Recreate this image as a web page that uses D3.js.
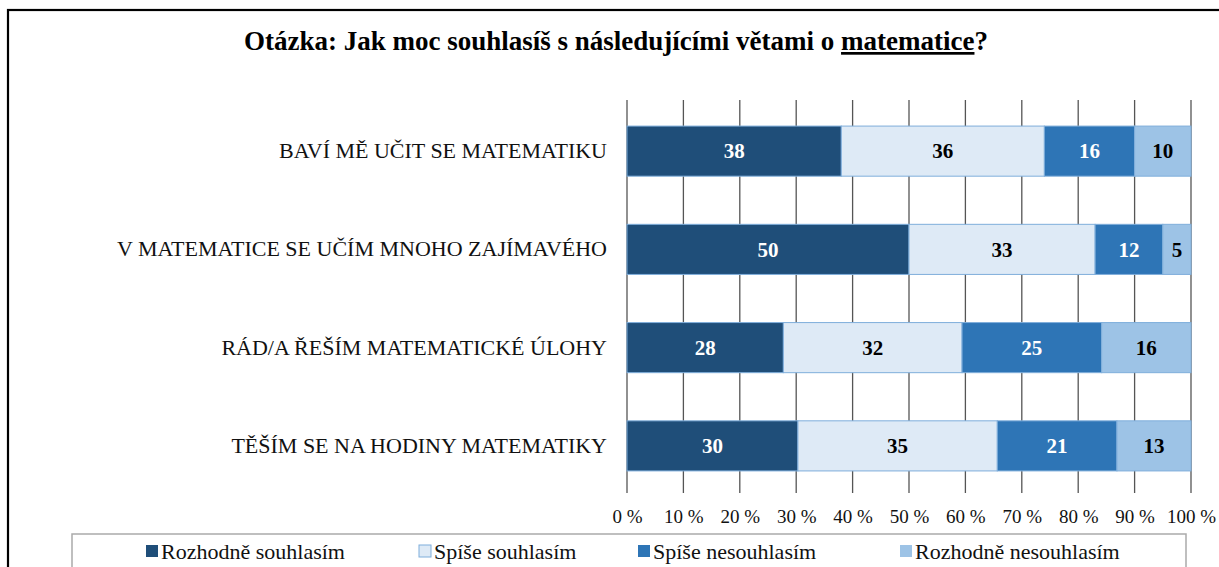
<!DOCTYPE html>
<html>
<head>
<meta charset="utf-8">
<script src="https://cdn.jsdelivr.net/npm/d3@7"></script>
<style>
  body { margin: 0; background: #fff; }
  svg text { font-family: 'Liberation Serif', serif; }
</style>
</head>
<body>
<div id="graph"></div>
<script>
// statements (rows) and answer categories
var statements = [
    "BAVÍ MĚ UČIT SE MATEMATIKU",
    "V MATEMATICE SE UČÍM MNOHO ZAJÍMAVÉHO",
    "RÁD/A ŘEŠÍM MATEMATICKÉ ÚLOHY",
    "TĚŠÍM SE NA HODINY MATEMATIKY"
];
var answers = ["Rozhodně souhlasím", "Spíše souhlasím", "Spíše nesouhlasím", "Rozhodně nesouhlasím"];

// percent values per answer, one entry per statement
var rozhodneSouhlasim = [38, 50, 28, 30];
var spiseSouhlasim = [36, 33, 32, 35];
var spiseNesouhlasim = [16, 12, 25, 21];
var rozhodneNesouhlasim = [10, 5, 16, 13];

var tickValues = [0, 10, 20, 30, 40, 50, 60, 70, 80, 90, 100];

window.onload = start;

function start() {
    var width = 1219;
    var height = 567;

    var svg = d3.select('#graph')
        .append('svg')
        .attr('width', width)
        .attr('height', height);

    // outer frame (runs off the right and bottom edge)
    svg.append('rect')
        .attr('x', 8).attr('y', 10)
        .attr('width', 1240).attr('height', 600)
        .attr('fill', 'none')
        .attr('stroke', '#000')
        .attr('stroke-width', 2.2);

    // title
    var title = svg.append('text')
        .attr('x', 616).attr('y', 50)
        .attr('text-anchor', 'middle')
        .attr('font-size', 27)
        .attr('font-weight', 'bold')
        .attr('fill', '#000');
    title.append('tspan').text('Otázka: Jak moc souhlasíš s následujícími větami o ');
    title.append('tspan').attr('text-decoration', 'underline').text('matematice');
    title.append('tspan').text('?');

    var left = 627, right = 1191, gridTop = 100, gridBottom = 493;

    var xScale = d3.scaleLinear().domain([0, 100]).range([left, right]);
    var yScale = d3.scaleBand().domain(statements).range([102, 495]).paddingInner(0.49).paddingOuter(0.245);

    var series = [rozhodneSouhlasim, spiseSouhlasim, spiseNesouhlasim, rozhodneNesouhlasim];
    var colors = ['#1f4e79', '#deeaf6', '#2e75b6', '#9dc3e6'];
    var labelColors = ['#fff', '#000', '#fff', '#000'];

    // build stacked rows, normalised so each row fills 100 %
    var rows = statements.map(function(s, i) {
        var total = 0;
        series.forEach(function(arr) { total += arr[i]; });
        var acc = 0;
        return series.map(function(arr, k) {
            var v = arr[i] / total * 100;
            var seg = { statement: s, key: k, value: arr[i], x0: acc, x1: acc + v };
            acc += v;
            return seg;
        });
    });

    // gridlines
    svg.append('g')
        .selectAll('line')
        .data(tickValues)
        .enter()
        .append('line')
        .attr('x1', function(d) { return xScale(d); })
        .attr('x2', function(d) { return xScale(d); })
        .attr('y1', gridTop)
        .attr('y2', gridBottom)
        .attr('stroke', '#555')
        .attr('stroke-width', 1.3);

    // bars
    var segs = [].concat.apply([], rows);
    svg.append('g')
        .selectAll('rect')
        .data(segs)
        .enter()
        .append('rect')
        .attr('x', function(d) { return xScale(d.x0); })
        .attr('y', function(d) { return yScale(d.statement); })
        .attr('width', function(d) { return xScale(d.x1) - xScale(d.x0); })
        .attr('height', yScale.bandwidth())
        .attr('fill', function(d) { return colors[d.key]; })
        .attr('stroke', '#7faedb')
        .attr('stroke-width', 1);

    // value labels
    svg.append('g')
        .selectAll('text')
        .data(segs)
        .enter()
        .append('text')
        .attr('x', function(d) { return (xScale(d.x0) + xScale(d.x1)) / 2; })
        .attr('y', function(d) { return yScale(d.statement) + yScale.bandwidth() / 2; })
        .attr('dy', '0.35em')
        .attr('text-anchor', 'middle')
        .attr('font-size', 21)
        .attr('font-weight', 'bold')
        .attr('fill', function(d) { return labelColors[d.key]; })
        .text(function(d) { return d.value; });

    // category axis
    var yAxis = d3.axisLeft(yScale).tickSize(0).tickPadding(20);
    var ya = svg.append('g')
        .attr('transform', 'translate(' + left + ',0)')
        .call(yAxis);
    ya.select('.domain').remove();
    ya.selectAll('text')
        .attr('font-size', 22)
        .attr('fill', '#111');

    // percent axis
    var xAxis = d3.axisBottom(xScale).tickValues(tickValues).tickSize(0).tickPadding(17)
        .tickFormat(function(d) { return d + ' %'; });
    var xa = svg.append('g')
        .attr('transform', 'translate(0,' + gridBottom + ')')
        .call(xAxis);
    xa.select('.domain').remove();
    xa.selectAll('text')
        .attr('font-size', 19)
        .attr('fill', '#111');

    // legend
    svg.append('rect')
        .attr('x', 72).attr('y', 534)
        .attr('width', 1114).attr('height', 50)
        .attr('fill', '#fff')
        .attr('stroke', '#aaa')
        .attr('stroke-width', 1.5);

    var legendX = [146, 419, 638, 900];
    var legend = svg.append('g')
        .selectAll('g')
        .data(answers)
        .enter()
        .append('g')
        .attr('transform', function(d, i) { return 'translate(' + legendX[i] + ',551)'; });
    legend.append('rect')
        .attr('x', 0).attr('y', -6)
        .attr('width', 12).attr('height', 12)
        .attr('fill', function(d, i) { return colors[i]; })
        .attr('stroke', function(d, i) { return i === 1 ? '#7faedb' : 'none'; });
    legend.append('text')
        .attr('x', 15)
        .attr('dy', '0.35em')
        .attr('font-size', 22)
        .attr('fill', '#111')
        .text(function(d) { return d; });
}
</script>
</body>
</html>
